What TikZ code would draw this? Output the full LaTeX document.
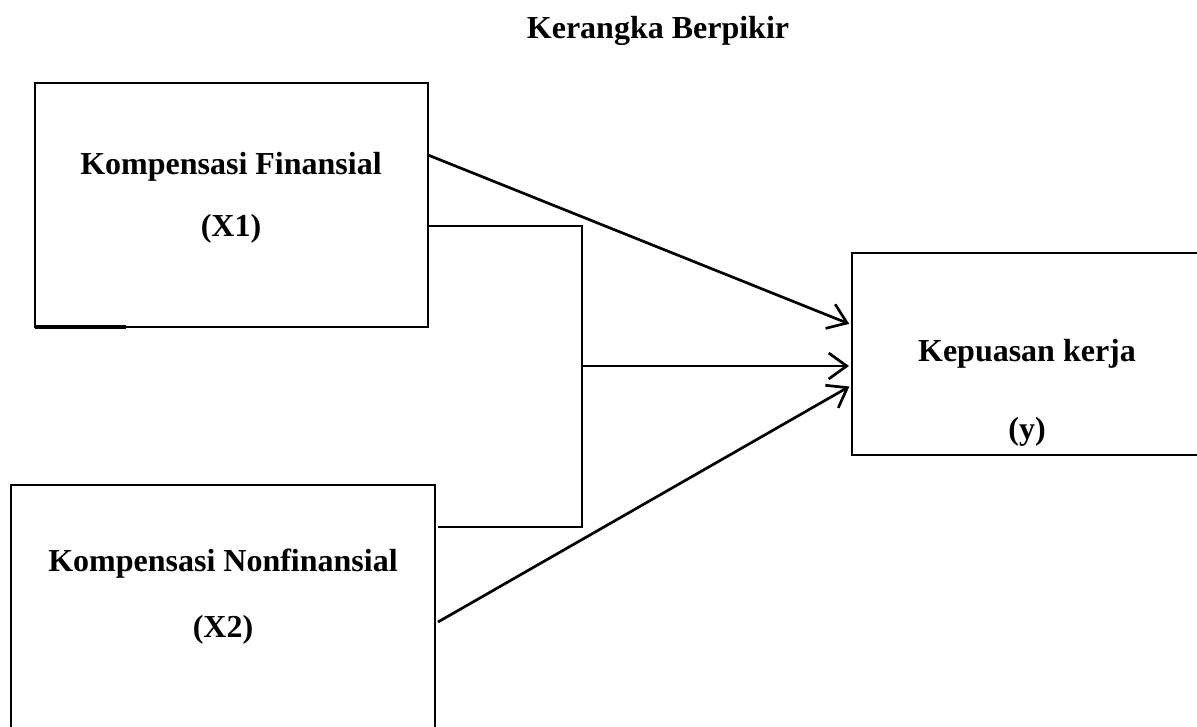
\documentclass[tikz,border=0pt]{standalone}
\usepackage{fontspec}
\setmainfont{Liberation Serif}
\usetikzlibrary{arrows.meta,calc}
\begin{document}
\begin{tikzpicture}[x=1pt,y=-1pt,
  box/.style={draw,line width=2.7pt,rectangle,inner sep=0pt,outer sep=0pt},
  lbl/.style={font=\fontsize{32}{38}\selectfont\bfseries,inner sep=0pt},
  conn/.style={line width=2.7pt},
  arr/.style={conn,-{Straight Barb[length=18pt,width=26pt,line width=2.7pt]},shorten >=3pt}]
\clip (0,0) rectangle (1197,727);
\useasboundingbox (0,0) rectangle (1197,727);
% title
\node[lbl] (title) at (658,31) {Kerangka Berpikir};
% boxes
\node[box,minimum width=393pt,minimum height=244pt] (b1) at (231.5,205) {};
\node[box,minimum width=424pt,minimum height=285pt] (b2) at (223,627.5) {};
\node[box,minimum width=378pt,minimum height=202pt] (b3) at (1041,354) {};
\draw[line width=4pt] (b1.south west) -- ++(91,0);
% labels
\node[lbl] (t1a) at (231,167) {Kompensasi Finansial};
\node[lbl] (t1b) at (231,229) {(X1)};
\node[lbl] (t2a) at (223,564) {Kompensasi Nonfinansial};
\node[lbl] (t2b) at (223,630) {(X2)};
\node[lbl] (t3a) at (1027,354) {Kepuasan kerja};
\node[lbl] (t3b) at (1027,432) {(y)};
% connector points
\coordinate (p1) at ($(b1.north east)+(0,72)$);
\coordinate (p2) at ($(b1.north east)+(0,143)$);
\coordinate (j1) at (582,226);
\coordinate (jm) at (582,366);
\coordinate (j2) at (582,527);
\coordinate (p3) at (438,527);
\coordinate (p4) at (438,622);
\coordinate (q1) at (b3.west |- 0,325);
\coordinate (q2) at (b3.west |- 0,366);
\coordinate (q3) at (b3.west |- 0,385);
% connectors
\draw[arr] (p1) -- (q1);
\draw[conn] (p2) -- (j1) -- (j2) -- (p3);
\draw[arr] (jm) -- (q2);
\draw[arr] (p4) -- (q3);
\end{tikzpicture}
\end{document}
